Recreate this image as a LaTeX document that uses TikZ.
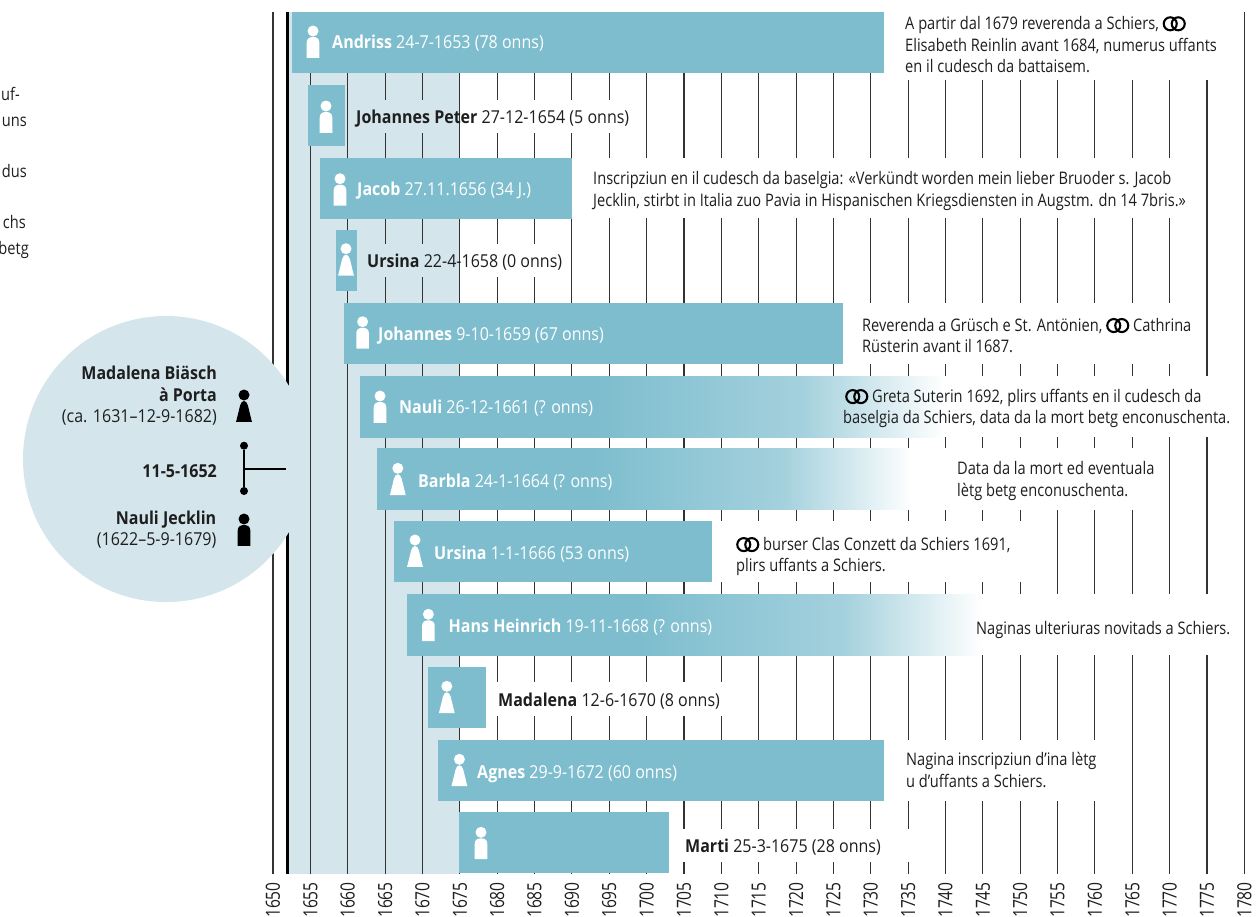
\documentclass[tikz,border=0pt]{standalone}
\usepackage{fontspec}
\setmainfont{Open Sans}[FakeStretch=0.845]
\newfontfamily\labelfont{Open Sans}[FakeStretch=0.9]
\newfontfamily\yearfont{Open Sans}[FakeStretch=0.8]
\usetikzlibrary{positioning}
\definecolor{barteal}{HTML}{7DBDCE}
\definecolor{panelblue}{HTML}{D4E5EC}
\definecolor{inkgrey}{HTML}{1E1E1E}
\pgfdeclarehorizontalshading{barfade}{100bp}{
    color(0bp)=(barteal); color(45bp)=(barteal);
    color(63bp)=(barteal!70!white); color(67.5bp)=(barteal!44!white);
    color(72.5bp)=(barteal!15!white); color(75bp)=(white); color(100bp)=(white)}
\newcommand{\ringpair}{\tikz[baseline=-0.33em,x=1pt,y=1pt]{\draw[line width=2.1pt,black] (0,0) circle[radius=6.5] (8,0) circle[radius=6.5];}}
\begin{document}
\begin{tikzpicture}[
    x=1pt,y=-1pt,
    font=\fontsize{17.3}{21.5}\selectfont,
    text=inkgrey
]
\tikzset{
    gridline/.style = {draw=black!80, line width=1.1pt},
    maskwhite/.style = {fill=white},
    maskpanel/.style = {fill=panelblue},
    barbox/.style = {anchor=north west, fill=barteal, minimum height=61, inner sep=0},
    fadebox/.style = {anchor=north west, shading=barfade, minimum height=61, inner sep=0},
    onbar/.style = {anchor=west, inner sep=0, text=white, font=\labelfont\fontsize{17.8}{21.5}\selectfont},
    offbar/.style = {anchor=west, inner sep=0, font=\labelfont\fontsize{17.8}{21.5}\selectfont},
    notelabel/.style = {anchor=west, inner sep=0, align=left},
    sidelabel/.style = {anchor=east, inner sep=0, align=right, font=\labelfont\fontsize{17.8}{21.5}\selectfont},
    cutlabel/.style = {anchor=east, inner sep=0},
    yearlabel/.style = {anchor=east, rotate=90, inner sep=0, font=\yearfont\fontsize{19.5}{20}\selectfont},
    wedding/.style = {circle, fill=black, minimum size=8, inner sep=0},
    malefig/.pic = {
        \path[pic actions] (0,0) circle[radius=5.5];
        \path[pic actions] (-6.3,26.8) -- (-6.3,11.5) .. controls (-6.3,7.5) and (-3.5,6) .. (0,6)
            .. controls (3.5,6) and (6.3,7.5) .. (6.3,11.5) -- (6.3,26.8) -- cycle;
    },
    femalefig/.pic = {
        \path[pic actions] (0,0) circle[radius=5.5];
        \path[pic actions] (-7.9,26.8) -- (-3.9,10.5) .. controls (-3.2,7.5) and (-1.6,6) .. (0,6)
            .. controls (1.6,6) and (3.2,7.5) .. (3.9,10.5) -- (7.9,26.8) -- cycle;
    }
}
\useasboundingbox (0,0) rectangle (1257,916);

% background and year lines
\fill[maskpanel] (288,12) rectangle (460,874);
\foreach \yr in {1650,1655,...,1780} {
    \coordinate (top\yr) at ({273+(\yr-1650)*7.472},12);
    \coordinate (foot\yr) at ({273+(\yr-1650)*7.472},874);
    \draw[gridline] (top\yr) -- (foot\yr);
    \node[yearlabel] (year\yr) at ({273+(\yr-1650)*7.472},882) {\yr};
}
\coordinate (topwed) at (287,12);
\coordinate (footwed) at (287,874);
\draw[line width=3pt,black] (topwed) -- (footwed);

% white strips behind the texts
\fill[maskpanel] (352,100) rectangle (460,133);
\fill[maskwhite] (460,100) rectangle (630,133);
\fill[maskpanel] (360,244) rectangle (460,277);
\fill[maskwhite] (460,244) rectangle (565,277);
\fill[maskwhite] (884,12) rectangle (1225,80);
\fill[maskwhite] (572,158) rectangle (1190,218);
\fill[maskwhite] (843,303) rectangle (1190,364);
\fill[maskwhite] (800,376) rectangle (1238,437);
\fill[maskwhite] (800,448) rectangle (1150,510);
\fill[maskwhite] (712,521) rectangle (1040,582);
\fill[maskwhite] (800,594) rectangle (1238,655);
\fill[maskwhite] (486,682) rectangle (735,716);
\fill[maskwhite] (884,740) rectangle (1112,801);
\fill[maskwhite] (669,829) rectangle (925,862);
\draw[gridline] (top1675) -- (foot1675);

% parents
\node[circle, fill=panelblue, minimum size=286, inner sep=0] (parents) at (166,459) {};
\node[sidelabel] (mother) at (217,396) {\textbf{Madalena Biäsch}\\\textbf{à Porta}\\(ca. 1631–12-9-1682)};
\node[sidelabel] (weddate) at (217,471) {\textbf{11-5-1652}};
\node[sidelabel] (father) at (216.5,529.5) {\textbf{Nauli Jecklin}\\(1622–5-9-1679)};
\pic[fill=black] at (244,395) {femalefig};
\pic[fill=black] at (244,519) {malefig};
\node[wedding] (wedtop) at (244,445.7) {};
\node[wedding] (wedbot) at (244,491) {};
\coordinate (wedmid) at (244,469);
\coordinate (wedend) at (286,469);
\draw[line width=2pt,black] (wedtop) -- (wedbot);
\draw[line width=1.5pt,black] (wedmid) -- (wedend);

% children
\node[barbox, minimum width=592] (andriss) at (292,12) {};
\node[barbox, minimum width=37] (johannespeter) at (308,85) {};
\node[barbox, minimum width=252] (jacob) at (320,158) {};
\node[barbox, minimum width=21] (ursinaa) at (336,230) {};
\node[barbox, minimum width=499] (johannes) at (344,303) {};
\node[fadebox, minimum width=583] (nauli) at (360,376) {};
\node[fadebox, minimum width=535] (barbla) at (377,448.5) {};
\node[barbox, minimum width=318] (ursinab) at (394,521) {};
\node[fadebox, minimum width=574] (hansheinrich) at (407,594) {};
\node[barbox, minimum width=58] (madalena) at (428,667) {};
\node[barbox, minimum width=446] (agnes) at (438,740) {};
\node[barbox, minimum width=210] (marti) at (459,812) {};

\pic[fill=white] at (313,31) {malefig};
\pic[fill=white] at (326,106) {malefig};
\pic[fill=white] at (340,178.7) {malefig};
\pic[fill=white] at (346,248.7) {femalefig};
\pic[fill=white] at (362.6,321.7) {malefig};
\pic[fill=white] at (380,396) {malefig};
\pic[fill=white] at (397.8,468.3) {femalefig};
\pic[fill=white] at (415,540) {femalefig};
\pic[fill=white] at (428.4,614.3) {malefig};
\pic[fill=white] at (446.8,686.3) {femalefig};
\pic[fill=white] at (459.4,759.3) {femalefig};
\pic[fill=white] at (481,832.3) {malefig};

\node[onbar] (andrisslabel) at (332,43.5) {\textbf{Andriss} 24-7-1653 (78 onns)};
\node[offbar] (johannespeterlabel) at (356,118.5) {\textbf{Johannes Peter} 27-12-1654 (5 onns)};
\node[onbar] (jacoblabel) at (357,191) {\textbf{Jacob} 27.11.1656 (34 J.)};
\node[offbar] (ursinaalabel) at (367,262) {\textbf{Ursina} 22-4-1658 (0 onns)};
\node[onbar] (johanneslabel) at (378,335.5) {\textbf{Johannes} 9-10-1659 (67 onns)};
\node[onbar] (naulilabel) at (399,408.5) {\textbf{Nauli} 26-12-1661 (? onns)};
\node[onbar] (barblalabel) at (418,482.5) {\textbf{Barbla} 24-1-1664 (? onns)};
\node[onbar] (ursinablabel) at (434,554.5) {\textbf{Ursina} 1-1-1666 (53 onns)};
\node[onbar] (hansheinrichlabel) at (448.5,627) {\textbf{Hans Heinrich} 19-11-1668 (? onns)};
\node[offbar] (madalenalabel) at (498,701) {\textbf{Madalena} 12-6-1670 (8 onns)};
\node[onbar] (agneslabel) at (477,774) {\textbf{Agnes} 29-9-1672 (60 onns)};
\node[offbar] (martilabel) at (685,847) {\textbf{Marti} 25-3-1675 (28 onns)};

% notes
\node[notelabel] (andrissnote) at (905,44.5) {A partir dal 1679 reverenda a Schiers, \ringpair\\Elisabeth Reinlin avant 1684, numerus uffants\\en il cudesch da battaisem.};
\node[notelabel] (jacobnote) at (593,191) {Inscripziun en il cudesch da baselgia: «Verkündt worden mein lieber Bruoder s. Jacob\\Jecklin, stirbt in Italia zuo Pavia in Hispanischen Kriegsdiensten in Augstm. dn 14 7bris.»};
\node[notelabel] (johannesnote) at (862,335.5) {Reverenda a Grüsch e St. Antönien, \ringpair{} Cathrina\\Rüsterin avant il 1687.};
\node[notelabel] (naulinote) at (843,408.5) {\hspace{2pt}\ringpair{} Greta Suterin 1692, plirs uffants en il cudesch da\\baselgia da Schiers, data da la mort betg enconuschenta.};
\node[notelabel] (barblanote) at (957,481) {Data da la mort ed eventuala\\lètg betg enconuschenta.};
\node[notelabel] (ursinabnote) at (736,556.5) {\ringpair{} burser Clas Conzett da Schiers 1691,\\plirs uffants a Schiers.};
\node[notelabel] (hansheinrichnote) at (976,630) {Naginas ulteriuras novitads a Schiers.};
\node[notelabel] (agnesnote) at (906,770) {Nagina inscripziun d’ina lètg\\u d’uffants a Schiers.};

% text at the left margin
\node[cutlabel] (cuta) at (20,94) {uf-};
\node[cutlabel] (cutb) at (27,122) {uns};
\node[cutlabel] (cutc) at (27,171) {dus};
\node[cutlabel] (cutd) at (26,222) {chs};
\node[cutlabel] (cute) at (29,250) {betg};
\end{tikzpicture}
\end{document}
